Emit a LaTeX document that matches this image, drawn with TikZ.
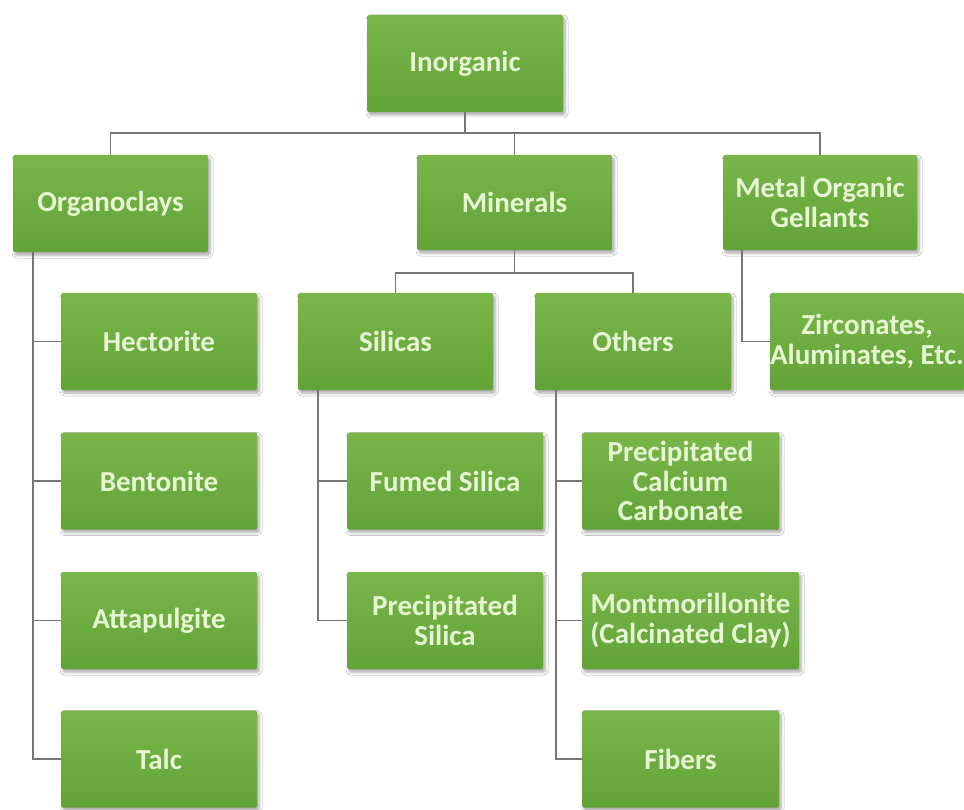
\documentclass[tikz,border=0pt]{standalone}
\usepackage{fontspec}
\setmainfont{Carlito}
\usetikzlibrary{shadows.blur}
\definecolor{boxtop}{HTML}{7AB64A}
\definecolor{boxbot}{HTML}{62A338}
\definecolor{boxtext}{HTML}{E6F6D2}
\definecolor{linegray}{HTML}{767676}
\begin{document}
\begin{tikzpicture}[x=1pt,y=-1pt,
  box/.style={rectangle, rounded corners=1.5pt, top color=boxtop, bottom color=boxbot,
    draw=none, minimum width=196pt, minimum height=97pt, inner sep=0pt, align=center,
    text=boxtext, font=\bfseries\fontsize{29}{29.5}\selectfont,
    blur shadow={shadow xshift=2pt, shadow yshift=-3pt, shadow blur radius=3pt, shadow opacity=35}},
  conn/.style={draw=linegray, line width=1.5pt}]
\fill[white] (0,0) rectangle (964,810);
\useasboundingbox (0,0) rectangle (964,810);
% level 1
\node[box] (inorg) at (465,63.5) {Inorganic};
% level 2
\node[box, minimum width=195pt] (organo) at (110.5,203.5) {Organoclays};
\node[box, minimum width=195pt, minimum height=95pt] (minerals) at (514.5,202.5) {Minerals};
\node[box, minimum width=194pt, minimum height=95pt] (metal) at (820,202.5) {Metal Organic\\Gellants};
% level 3
\node[box] (hector) at (159,341.5) {Hectorite};
\node[box] (bento) at (159,481) {Bentonite};
\node[box] (atta) at (159,620.5) {Attapulgite};
\node[box] (talc) at (159,759) {Talc};
\node[box, minimum width=195pt] (silicas) at (395.5,341.5) {Silicas};
\node[box] (others) at (633,341.5) {Others};
\node[box, minimum width=192pt] (zirc) at (867,341.5) {Zirconates,\\Aluminates, Etc.};
\node[box] (fumed) at (445,481) {Fumed Silica};
\node[box] (psilica) at (445,620.5) {Precipitated\\Silica};
\node[box, minimum width=197pt] (pcc) at (680.5,481) {Precipitated\\Calcium\\Carbonate};
\node[box, minimum width=217pt] (mont) at (690.5,620.5) {Montmorillonite\\(Calcinated Clay)};
\node[box, minimum width=197pt] (fibers) at (680.5,759) {Fibers};
% connectors
\draw[conn] (inorg.south) -- ++(0,21) coordinate (b1) -| (organo.north);
\draw[conn] (b1) -| (minerals.north);
\draw[conn] (b1) -| (metal.north);
\draw[conn] (minerals.south) -- ++(0,23) coordinate (b2) -| (silicas.north);
\draw[conn] (b2) -| (others.north);
\coordinate (ot) at ([xshift=20pt]organo.south west);
\draw[conn] (ot) |- (hector.west);
\draw[conn] (ot) |- (bento.west);
\draw[conn] (ot) |- (atta.west);
\draw[conn] (ot) |- (talc.west);
\coordinate (st) at ([xshift=20pt]silicas.south west);
\draw[conn] (st) |- (fumed.west);
\draw[conn] (st) |- (psilica.west);
\coordinate (oth) at ([xshift=21pt]others.south west);
\draw[conn] (oth) |- (pcc.west);
\draw[conn] (oth) |- (mont.west);
\draw[conn] (oth) |- (fibers.west);
\coordinate (mt) at ([xshift=19pt]metal.south west);
\draw[conn] (mt) |- (zirc.west);
\end{tikzpicture}
\end{document}
